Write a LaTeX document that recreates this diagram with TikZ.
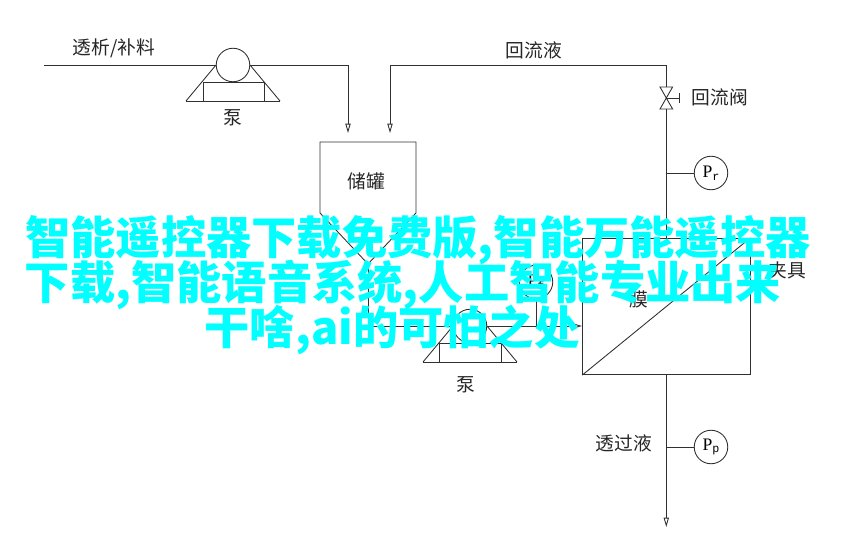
\documentclass[tikz,border=0pt]{standalone}
\usepackage{fontspec}
\setmainfont{Noto Sans CJK SC}
\newfontfamily\gaugefont{Liberation Serif}
\newfontfamily\gaugesub{Liberation Mono}
\usetikzlibrary{arrows.meta}
\definecolor{linegray}{HTML}{303030}
\definecolor{bannercyan}{HTML}{00FFFF}
\tikzset{
  pipe/.style={draw=linegray,line width=0.75pt},
  flow/.style={pipe,-{Triangle[open,length=8pt,width=4.5pt]}},
  roundpart/.style={circle,draw=linegray,line width=0.75pt,fill=white,minimum size=28.6pt,inner sep=0pt},
  gauge/.style={roundpart,font=\gaugefont\fontsize{15}{15}\selectfont},
  tag/.style={font=\fontsize{16}{16}\selectfont,text=black!85,inner sep=0pt},
  banner/.style={font=\fontsize{38.65}{38.65}\selectfont\bfseries,text=bannercyan,inner sep=0pt},
}
\newcommand{\gaugetext}[1]{P\raisebox{-0.35ex}{\gaugesub\fontsize{10}{10}\selectfont #1}}
\begin{document}
\begin{tikzpicture}[x=0.03cm,y=-0.03cm]
\useasboundingbox (0,0) rectangle (858,555);
%pump 1
\draw[pipe] (186,101) -- (216,65);
\draw[pipe] (280,101) -- (250,65);
\draw[pipe] (186,101) -- (280,101);
\draw[pipe] (203,82) rectangle (264,101);
\node[roundpart] (pumpa) at (233,65) {};
\node[tag] (pumpatag) at (233,118) {泵};
%feed
\coordinate (feedin) at (44,65);
\coordinate (feedbend) at (348,65);
\coordinate (feedend) at (348,133);
\draw[pipe] (feedin) -- (pumpa);
\draw[flow] (pumpa) -- (feedbend) -- (feedend);
\node[tag] (feedtag) at (114,48) {透析/补料};
%tank
\node[tag] (tanktag) at (366,181) {储罐};
\coordinate (tankout) at (368,264);
\draw[pipe] (320,213) -- (320,142) -- (416,142) -- (416,213) -- (tankout) -- cycle;
%pump 2
\draw[pipe] (423,362) -- (453,326);
\draw[pipe] (517,362) -- (487,326);
\draw[pipe] (423,362) -- (517,362);
\draw[pipe] (439,343) rectangle (501,362);
\node[tag] (pumpbtag) at (466,385) {泵};
%filter
\node[draw=linegray,line width=0.75pt,minimum width=142.8pt,minimum height=116.4pt,inner sep=0pt] (filter) at (666.3,306.5) {};
\draw[pipe] (filter.south west) -- (filter.north east);
\node[tag] (filtertag) at (639,299) {膜};
\node[tag] (clamptag) at (787,270) {夹具};
%line into filter
\coordinate (tankbend) at (368,326);
\coordinate (filterin) at (582,326);
\draw[pipe] (tankout) -- (tankbend);
\node[roundpart] (pumpb) at (470,326) {};
\draw[pipe] (tankbend) -- (pumpb);
\draw[flow] (pumpb) -- (filterin);
\node[gauge] (pf) at (536,282) {\gaugetext{f}};
\coordinate (pfbase) at (536,326);
\draw[pipe] (pf) -- (pfbase);
%return
\coordinate (backbend) at (666.3,65);
\coordinate (backcorner) at (390,65);
\coordinate (backend) at (390,133);
\node[tag] (backtag) at (534,50) {回流液};
\coordinate (valvetop) at (666.3,87);
\coordinate (valvemid) at (666.3,98);
\coordinate (valvebot) at (666.3,109);
\coordinate (valvehand) at (679,98);
\draw[flow] (valvetop) -- (backbend) -- (backcorner) -- (backend);
\draw[pipe] (valvetop) ++(-6.3,0) -- ++(12.6,0) -- (valvemid) -- cycle;
\draw[pipe] (valvebot) ++(-6.3,0) -- ++(12.6,0) -- (valvemid) -- cycle;
\draw[pipe] (valvemid) -- (valvehand);
\draw[pipe] (679,93) -- (679,103);
\node[tag] (valvetag) at (720,97) {回流阀};
\draw[pipe] (valvebot) -- (filter.north);
\node[gauge] (pr) at (711,173) {\gaugetext{r}};
\coordinate (prbase) at (666.3,173);
\draw[pipe] (prbase) -- (pr);
%permeate
\coordinate (permend) at (666.3,527);
\draw[flow] (filter.south) -- (permend);
\node[gauge] (pp) at (711,447) {\gaugetext{p}};
\coordinate (ppbase) at (666.3,447);
\draw[pipe] (ppbase) -- (pp);
\node[tag] (permtag) at (624,443) {透过液};
%overlay text
\node[banner] (linea) at (418,240) {智能遥控器下载免费版,智能万能遥控器};
\node[banner] (lineb) at (403,285) {下载,智能语音系统,人工智能专业出来};
\node[banner] (linec) at (392,330) {干啥,ai的可怕之处};
\end{tikzpicture}
\end{document}
